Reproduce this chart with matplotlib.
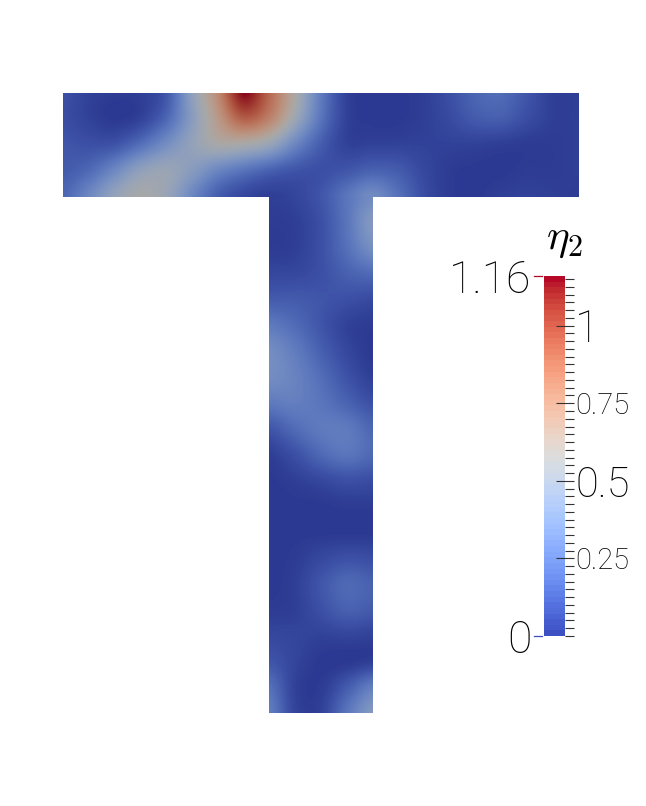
"""Scalar field eta_2 on a T-shaped domain, with a ParaView style colour bar."""
import numpy as np
import matplotlib
matplotlib.use('Agg')
import matplotlib.pyplot as plt
from matplotlib.colors import ListedColormap
from matplotlib.patches import Rectangle
from matplotlib.ticker import FixedLocator

W, H = 646, 806

# field samples, every quarter unit
BAR_ROWS = [
    [0.08, 0.03, 0.01, 0.02, 0.10, 0.45, 0.78, 1.16, 0.92, 0.60, 0.25, 0.03, 0.00, 0.00, 0.02, 0.08, 0.16, 0.18, 0.10, 0.02, 0.02],
    [0.07, 0.03, 0.00, 0.03, 0.16, 0.42, 0.70, 0.95, 0.82, 0.52, 0.22, 0.03, 0.00, 0.00, 0.02, 0.06, 0.12, 0.13, 0.07, 0.02, 0.02],
    [0.10, 0.08, 0.09, 0.19, 0.33, 0.47, 0.58, 0.58, 0.50, 0.30, 0.13, 0.03, 0.03, 0.03, 0.03, 0.03, 0.03, 0.02, 0.01, 0.01, 0.02],
    [0.12, 0.17, 0.30, 0.45, 0.50, 0.42, 0.30, 0.22, 0.15, 0.10, 0.08, 0.10, 0.14, 0.12, 0.05, 0.01, 0.00, 0.00, 0.01, 0.01, 0.02],
    [0.16, 0.30, 0.47, 0.57, 0.50, 0.30, 0.13, 0.05, 0.02, 0.04, 0.10, 0.22, 0.32, 0.20, 0.07, 0.01, 0.00, 0.02, 0.03, 0.02, 0.01],
]
STEM_ROWS = [
    [0.02, 0.04, 0.10, 0.22, 0.32],
    [0.01, 0.02, 0.08, 0.22, 0.40],
    [0.01, 0.02, 0.08, 0.20, 0.34],
    [0.05, 0.05, 0.08, 0.14, 0.18],
    [0.12, 0.12, 0.10, 0.08, 0.06],
    [0.24, 0.18, 0.10, 0.03, 0.01],
    [0.33, 0.25, 0.14, 0.05, 0.00],
    [0.33, 0.28, 0.19, 0.09, 0.02],
    [0.24, 0.26, 0.22, 0.15, 0.08],
    [0.10, 0.18, 0.24, 0.24, 0.16],
    [0.02, 0.08, 0.17, 0.22, 0.17],
    [0.00, 0.02, 0.05, 0.08, 0.07],
    [0.00, 0.00, 0.00, 0.01, 0.01],
    [0.00, 0.00, 0.00, 0.00, 0.00],
    [0.00, 0.01, 0.05, 0.08, 0.07],
    [0.00, 0.02, 0.10, 0.17, 0.14],
    [0.01, 0.02, 0.08, 0.14, 0.12],
    [0.05, 0.04, 0.03, 0.04, 0.03],
    [0.10, 0.04, 0.00, 0.00, 0.02],
    [0.20, 0.03, 0.01, 0.12, 0.26],
    [0.25, 0.04, 0.03, 0.22, 0.40],
]

VMIN, VMAX = 0.0, 1.16
CBAR_MAJOR = [0.25, 0.5, 0.75, 1.0]
CBAR_LABELS = ['0.25', '0.5', '0.75', '1']
CBAR_SIZES = [21, 30, 21, 32]
CBAR_MINOR_STEP = 0.025
N_BANDS = 64

# the surface is shaded in the reference, so it is darker than the bar
SHADE = 0.76
FONT_FAMILY = ['Roboto', 'DejaVu Sans']
FONT_WEIGHT = 'light'


def px_axes(fig, left, top, right, bottom):
    """Axes from reference pixel edges."""
    return fig.add_axes([left / W, 1 - bottom / H, (right - left) / W, (bottom - top) / H])


fig = plt.figure(figsize=(W / 100, H / 100), dpi=100, facecolor='white')

# T shape, 5 units wide and 6 high
ax = px_axes(fig, 63, 93, 579, 713)
rgba = plt.cm.coolwarm(np.arange(256))
rgba[:, :3] *= SHADE
field_cmap = ListedColormap(rgba)

# catrom passes through the samples, bicubic here would blur the peak away
bar_im = ax.imshow(np.array(BAR_ROWS), extent=(-0.125, 5.125, 4.875, 6.125), cmap=field_cmap,
                   vmin=VMIN, vmax=VMAX, interpolation='catrom', aspect='auto', origin='upper')
stem_im = ax.imshow(np.array(STEM_ROWS), extent=(1.875, 3.125, -0.125, 5.125), cmap=field_cmap,
                    vmin=VMIN, vmax=VMAX, interpolation='catrom', aspect='auto', origin='upper')
bar_im.set_clip_path(Rectangle((0, 4.99), 5, 1.01, transform=ax.transData))
stem_im.set_clip_path(Rectangle((2, 0), 1, 4.99, transform=ax.transData))
ax.set_xlim(0, 5)
ax.set_ylim(0, 6)
ax.axis('off')

# colour bar
cax = px_axes(fig, 544, 276, 565, 636)
bands = np.linspace(VMIN, VMAX, N_BANDS + 1)
cax.pcolormesh([0, 1], bands, ((bands[:-1] + bands[1:]) / 2)[:, None], cmap='coolwarm',
               vmin=VMIN, vmax=VMAX, shading='flat', rasterized=True)
cax.set_ylim(VMIN, VMAX)
cax.set_xticks([])
for spine in cax.spines.values():
    spine.set_visible(False)

cax.yaxis.tick_right()
cax.yaxis.set_major_locator(FixedLocator(CBAR_MAJOR))
cax.yaxis.set_minor_locator(FixedLocator(np.arange(0, 1.16, CBAR_MINOR_STEP)))
cax.set_yticklabels(CBAR_LABELS)
cax.tick_params(axis='y', which='major', direction='inout', length=13, width=0.8,
                color='#333333', pad=1)
cax.tick_params(axis='y', which='minor', direction='out', length=6.5, width=0.8,
                color='#333333')
for label, size in zip(cax.get_yticklabels(), CBAR_SIZES):
    label.set_fontsize(size)
    label.set_fontfamily(FONT_FAMILY)
    label.set_fontweight(FONT_WEIGHT)

# range ends sit on the left, coloured like the bar ends
for value, colour, text in [(VMAX, plt.cm.coolwarm(1.0), '1.16'), (VMIN, plt.cm.coolwarm(0.0), '0')]:
    trans = cax.get_yaxis_transform()
    cax.plot([-0.476, -0.095], [value, value], color=colour, lw=0.9, transform=trans, clip_on=False)
    cax.text(-0.6, value, text, fontsize=32, ha='right', va='center_baseline', transform=trans,
             family=FONT_FAMILY, weight=FONT_WEIGHT, color='black')

fig.text(564 / W, 1 - 239 / H, r'$\eta_2$', fontsize=31, ha='center', va='center',
         math_fontfamily='cm')

fig.savefig('out.png', dpi=100, facecolor='white')
